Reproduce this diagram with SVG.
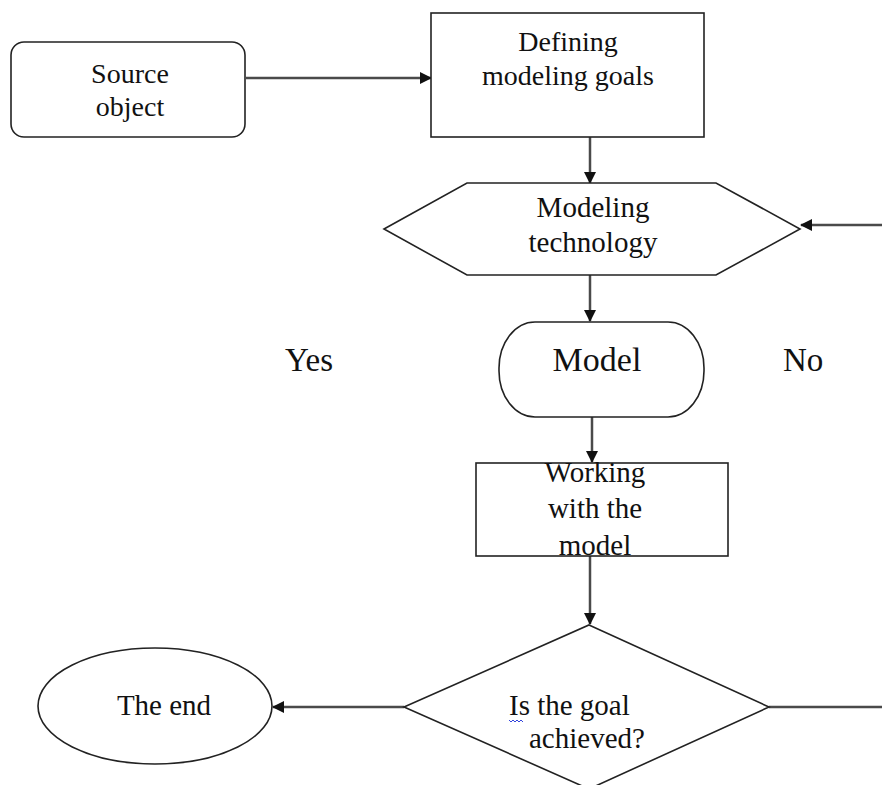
<svg xmlns="http://www.w3.org/2000/svg" width="882" height="785" viewBox="0 0 882 785">
<style>
.shape{fill:#fff;stroke:#222;stroke-width:1.6}
.conn{fill:none;stroke:#4a4a4a;stroke-width:2.5}
text{font-family:"Liberation Serif","Times New Roman",serif;font-size:29px;fill:#111}
.c{text-anchor:middle}
.s{font-size:28px}
</style>
<defs>
<marker id="arr" markerUnits="userSpaceOnUse" markerWidth="12" markerHeight="12" refX="11" refY="6" orient="auto" viewBox="0 0 12 12">
<path d="M0,0 L12,6 L0,12 z" fill="#111"/>
</marker>
</defs>
<rect width="882" height="785" fill="#fff"/>
<g id="connectors">
<path class="conn" d="M246,78 L431,78" marker-end="url(#arr)"/>
<path class="conn" d="M590,137 L590,183" marker-end="url(#arr)"/>
<path class="conn" d="M882,225 L801,225" marker-end="url(#arr)"/>
<path class="conn" d="M590,275 L590,321" marker-end="url(#arr)"/>
<path class="conn" d="M592,417 L592,462" marker-end="url(#arr)"/>
<path class="conn" d="M590,556 L590,624" marker-end="url(#arr)"/>
<path class="conn" d="M404,707 L273,707" marker-end="url(#arr)"/>
<path class="conn" d="M769,707 L882,707"/>
</g>
<g id="source">
<rect class="shape" x="11" y="42" width="234" height="95" rx="13"/>
<text class="c s" x="130" y="83">Source</text>
<text class="c s" x="130" y="116">object</text>
</g>
<g id="defining">
<rect class="shape" x="431" y="13" width="273" height="124"/>
<text class="c s" x="568" y="51">Defining</text>
<text class="c s" x="568" y="85">modeling goals</text>
</g>
<g id="technology">
<polygon class="shape" points="384,229 467,183 716,183 800,229 716,275 467,275"/>
<text class="c" x="593" y="217">Modeling</text>
<text class="c" x="593" y="252">technology</text>
</g>
<g id="yes"><text x="285" y="371" style="font-size:33px">Yes</text></g>
<g id="no"><text x="783" y="371" style="font-size:33px">No</text></g>
<g id="model">
<rect class="shape" x="499" y="322" width="205" height="95" rx="36" ry="46"/>
<text class="c" x="597" y="371" style="font-size:34px">Model</text>
</g>
<g id="working">
<rect class="shape" x="476" y="463" width="252" height="93"/>
<text class="c" x="595" y="482">Working</text>
<text class="c" x="595" y="518">with the</text>
<text class="c" x="595" y="555">model</text>
</g>
<g id="decision">
<polygon class="shape" points="589,625 769,707 589,789 404,707"/>
<text x="509" y="715">Is the goal</text>
<text x="529" y="748">achieved?</text>
<path d="M509,720 l2,2 l2,-2 l2,2 l2,-2 l2,2 l2,-2 l2,2" fill="none" stroke="#3344dd" stroke-width="1"/>
</g>
<g id="end">
<ellipse class="shape" cx="155" cy="706" rx="117" ry="58"/>
<text class="c" x="164" y="715">The end</text>
</g>
</svg>
